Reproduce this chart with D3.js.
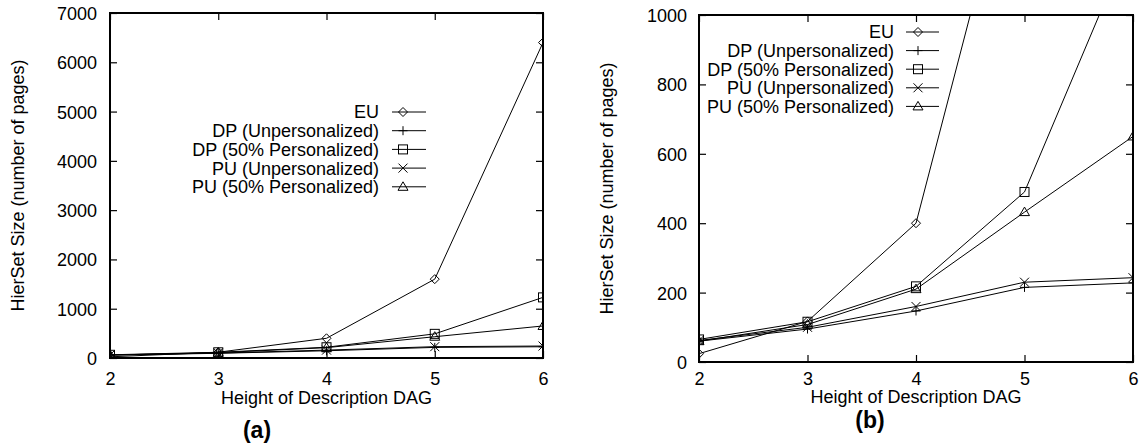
<!DOCTYPE html>
<html>
<head>
<meta charset="utf-8">
<script src="https://cdn.jsdelivr.net/npm/d3@7/dist/d3.min.js"></script>
<style>
  html, body { margin: 0; padding: 0; background: #fff; }
  text { font-family: "Liberation Sans", Arial, Helvetica, sans-serif; fill: #000; }
</style>
</head>
<body>
<svg id="chart" width="1141" height="445"></svg>
<script>
// ---- data ----
const heights = [2, 3, 4, 5, 6];
const seriesNames = ["EU", "DP (Unpersonalized)", "DP (50% Personalized)", "PU (Unpersonalized)", "PU (50% Personalized)"];
const seriesMarkers = ["diamond", "plus", "square", "cross", "triangle"];
const euValues = [24, 117, 400, 1600, 6400];
const dpUnpersValues = [60, 95, 147, 215, 228];
const dp50Values = [65, 116, 218, 490, 1230];
const puUnpersValues = [62, 100, 160, 230, 243];
const pu50Values = [60, 108, 210, 432, 650];
const seriesValues = [euValues, dpUnpersValues, dp50Values, puUnpersValues, pu50Values];
const yTicksA = [0, 1000, 2000, 3000, 4000, 5000, 6000, 7000];
const yTicksB = [0, 200, 400, 600, 800, 1000];
const xTitle = "Height of Description DAG";
const yTitle = "HierSet Size (number of pages)";

const svg = d3.select("#chart");
const FONT = 18;

function marker(g, type, x, y) {
  const s = 4.5;
  if (type === "diamond") {
    g.append("path").attr("d", `M${x},${y-s}L${x+s},${y}L${x},${y+s}L${x-s},${y}Z`)
      .attr("fill", "none").attr("stroke", "#000").attr("stroke-width", 1);
  } else if (type === "plus") {
    g.append("path").attr("d", `M${x-s},${y}H${x+s}M${x},${y-s}V${y+s}`)
      .attr("fill", "none").attr("stroke", "#000").attr("stroke-width", 1);
  } else if (type === "square") {
    g.append("rect").attr("x", x-s).attr("y", y-s).attr("width", 2*s).attr("height", 2*s)
      .attr("fill", "none").attr("stroke", "#000").attr("stroke-width", 1);
  } else if (type === "cross") {
    g.append("path").attr("d", `M${x-s},${y-s}L${x+s},${y+s}M${x-s},${y+s}L${x+s},${y-s}`)
      .attr("fill", "none").attr("stroke", "#000").attr("stroke-width", 1);
  } else if (type === "triangle") {
    g.append("path").attr("d", `M${x},${y-s-0.5}L${x+s+0.5},${y+s-1}L${x-s-0.5},${y+s-1}Z`)
      .attr("fill", "none").attr("stroke", "#000").attr("stroke-width", 1);
  }
}

function panel(cfg) {
  const { left, right, top, bottom, yMax, yTicks, id, label, legend, tickLabelY, xTitleY, labelX, labelY, yTitleX, yPad } = cfg;
  const x = d3.scaleLinear().domain([2, 6]).range([left, right]);
  const y = d3.scaleLinear().domain([0, yMax]).range([bottom, top]);
  const g = svg.append("g");

  svg.append("clipPath").attr("id", "clip" + id)
    .append("rect").attr("x", left).attr("y", top).attr("width", right - left).attr("height", bottom - top);

  const axL = d3.axisLeft(y).tickValues(yTicks).tickSizeInner(-7).tickSizeOuter(0).tickPadding(yPad).tickFormat(d3.format("d"));
  const axR = d3.axisRight(y).tickValues(yTicks).tickSizeInner(-7).tickSizeOuter(0).tickFormat("");
  const axB = d3.axisBottom(x).tickValues(heights).tickSizeInner(-7).tickSizeOuter(0).tickPadding(tickLabelY - bottom).tickFormat(d3.format("d"));
  const axT = d3.axisTop(x).tickValues(heights).tickSizeInner(-7).tickSizeOuter(0).tickFormat("");

  const styleAxis = sel => {
    sel.select(".domain").remove();
    sel.selectAll(".tick line").attr("stroke", "#000").attr("stroke-width", 1.2);
    sel.selectAll(".tick text").attr("font-size", FONT).attr("font-family", "Liberation Sans, Arial, sans-serif").attr("fill", "#000");
  };
  g.append("g").attr("transform", `translate(${left},0)`).call(axL).call(styleAxis)
    .selectAll(".tick text").attr("dy", "0.36em");
  g.append("g").attr("transform", `translate(${right},0)`).call(axR).call(styleAxis);
  g.append("g").attr("transform", `translate(0,${bottom})`).call(axB).call(styleAxis)
    .selectAll(".tick text").attr("dy", "0.71em");
  g.append("g").attr("transform", `translate(0,${top})`).call(axT).call(styleAxis);

  const line = d3.line().x((d, i) => x(heights[i])).y(d => y(d));
  const dg = g.append("g").attr("clip-path", `url(#clip${id})`);
  seriesValues.forEach((vals, si) => {
    dg.append("path").attr("d", line(vals)).attr("fill", "none").attr("stroke", "#000").attr("stroke-width", 1);
    vals.forEach((v, i) => marker(dg, seriesMarkers[si], x(heights[i]), y(v)));
  });

  g.append("rect").attr("x", left).attr("y", top).attr("width", right - left).attr("height", bottom - top)
    .attr("fill", "none").attr("stroke", "#000").attr("stroke-width", 2);

  const lg = g.append("g");
  seriesNames.forEach((name, i) => {
    const ly = legend.y0 + i * legend.dy;
    lg.append("text").attr("x", legend.textRight).attr("y", ly).attr("dy", "0.36em")
      .attr("text-anchor", "end").attr("font-size", FONT).text(name);
    lg.append("line").attr("x1", legend.lineX1).attr("x2", legend.lineX2).attr("y1", ly).attr("y2", ly)
      .attr("stroke", "#000").attr("stroke-width", 1);
    marker(lg, seriesMarkers[i], legend.markerX, ly);
  });

  g.append("text").attr("x", (left + right) / 2).attr("y", xTitleY).attr("dy", "0.36em")
    .attr("text-anchor", "middle").attr("font-size", FONT).text(xTitle);
  g.append("text").attr("transform", `translate(${yTitleX},${(top + bottom) / 2}) rotate(-90)`)
    .attr("dy", "0.36em").attr("text-anchor", "middle").attr("font-size", FONT).text(yTitle);
  g.append("text").attr("x", labelX).attr("y", labelY).attr("dy", "0.36em")
    .attr("text-anchor", "middle").attr("font-size", 23).attr("font-weight", "bold").text(label);
}

panel({
  id: "a", left: 110, right: 543, top: 13, bottom: 358, yMax: 7000, yTicks: yTicksA, yPad: 13,
  tickLabelY: 372, xTitleY: 398, label: "(a)", labelX: 257, labelY: 430, yTitleX: 18,
  legend: { textRight: 379, lineX1: 392, lineX2: 426, markerX: 403, y0: 112, dy: 18.7 }
});
panel({
  id: "b", left: 699, right: 1133, top: 15, bottom: 362, yMax: 1000, yTicks: yTicksB, yPad: 12,
  tickLabelY: 372, xTitleY: 397, label: "(b)", labelX: 870, labelY: 420, yTitleX: 607,
  legend: { textRight: 894, lineX1: 906, lineX2: 939, markerX: 918, y0: 32, dy: 18.6 }
});
</script>
</body>
</html>
